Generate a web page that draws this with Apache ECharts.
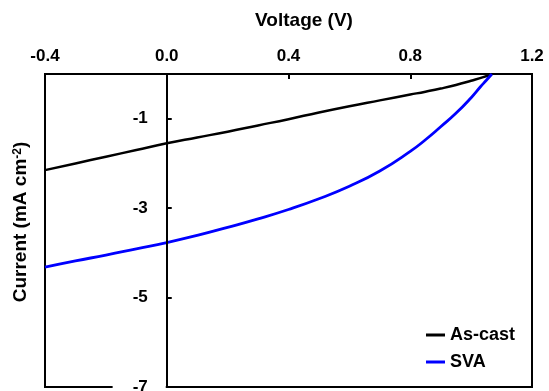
<!DOCTYPE html>
<html>
<head>
<meta charset="utf-8">
<script src="https://cdn.jsdelivr.net/npm/echarts@6/dist/echarts.min.js"></script>
<style>
  html, body { margin: 0; padding: 0; background: #fff; }
  #chart { width: 549px; height: 391px; }
</style>
</head>
<body>
<div id="chart"></div>
<script>
// J–V curves: voltage (V) against current density (mA cm^-2)
const xTicks = [-0.4, 0.0, 0.4, 0.8, 1.2];
const yTickLabels = [-7, -5, -3, -1];

const asCastVoltage = [-0.4, -0.3, -0.2, -0.1, 0.0, 0.1, 0.2, 0.3, 0.4, 0.5, 0.6, 0.7, 0.8, 0.85, 0.9, 0.95, 1.0, 1.04, 1.068];
const asCastCurrent = [-2.15, -2.00, -1.85, -1.70, -1.55, -1.42, -1.29, -1.15, -1.01, -0.86, -0.72, -0.59, -0.46, -0.395, -0.325, -0.245, -0.15, -0.07, 0.0];

const svaVoltage = [-0.4, -0.3, -0.2, -0.1, 0.0, 0.1, 0.2, 0.3, 0.4, 0.5, 0.6, 0.7, 0.8, 0.85, 0.9, 0.95, 1.0, 1.03, 1.05, 1.068];
const svaCurrent = [-4.32, -4.18, -4.05, -3.91, -3.77, -3.61, -3.43, -3.24, -3.03, -2.79, -2.51, -2.17, -1.73, -1.47, -1.18, -0.88, -0.53, -0.29, -0.14, 0.0];

const seriesNames = ['As-cast', 'SVA'];
const seriesColors = ['#000000', '#0000ff'];

const pairs = (xs, ys) => xs.map((x, i) => [x, ys[i]]);
const FONT = '"Liberation Sans", Arial, sans-serif';

// plot frame in pixels; the y axis is shifted right so it sits on V = 0
const GRID = { left: 45, right: 17, top: 74, bottom: 4 };
const plotWidth = 549 - GRID.left - GRID.right;
const xMin = xTicks[0], xMax = xTicks[xTicks.length - 1];
const zeroOffset = (0 - xMin) / (xMax - xMin) * plotWidth;

const chart = echarts.init(document.getElementById('chart'), null, { renderer: 'canvas' });

chart.setOption({
  backgroundColor: '#ffffff',
  animation: false,
  grid: {
    left: GRID.left, right: GRID.right, top: GRID.top, bottom: GRID.bottom,
    outerBoundsMode: 'none',
    containLabel: false,
    show: true,
    borderColor: '#000',
    borderWidth: 2,
    backgroundColor: 'transparent'
  },
  xAxis: {
    type: 'value',
    position: 'top',
    min: xMin,
    max: xMax,
    interval: 0.4,
    axisLine: { onZero: false, lineStyle: { color: '#000', width: 2 } },
    axisTick: { inside: true, length: 5, lineStyle: { color: '#000', width: 2 } },
    axisLabel: {
      margin: 9,
      color: '#000',
      fontFamily: FONT,
      fontWeight: 'bold',
      fontSize: 17,
      formatter: v => (Math.abs(v) < 1e-9 ? 0 : v).toFixed(1)
    },
    splitLine: { show: false }
  },
  yAxis: {
    type: 'value',
    position: 'left',
    offset: -zeroOffset,
    min: -7,
    max: 0,
    z: 5,
    axisLine: { onZero: false, lineStyle: { color: '#000', width: 2 } },
    axisTick: {
      inside: true, length: 5,
      customValues: yTickLabels,
      lineStyle: { color: '#000', width: 2 }
    },
    axisLabel: {
      customValues: yTickLabels,
      margin: 1,
      color: '#000',
      fontFamily: FONT,
      fontWeight: 'bold',
      fontSize: 17,
      backgroundColor: '#fff',
      padding: [2, 18, 2, 20]
    },
    splitLine: { show: false }
  },
  legend: {
    orient: 'vertical',
    left: 421,
    top: 321,
    icon: 'rect',
    itemWidth: 19,
    itemHeight: 3,
    itemGap: 9,
    textStyle: { color: '#000', fontFamily: FONT, fontWeight: 'bold', fontSize: 18 },
    data: seriesNames
  },
  graphic: [
    {
      type: 'text',
      x: 304, y: 21,
      style: {
        text: 'Voltage (V)',
        align: 'center', verticalAlign: 'middle',
        fill: '#000',
        font: 'bold 19px ' + FONT
      }
    },
    {
      type: 'text',
      x: 21, y: 222,
      rotation: Math.PI / 2,
      z: 10,
      style: {
        text: '{a|Current (mA cm}{s|-2}{a|)}',
        align: 'center', verticalAlign: 'middle',
        fill: '#000',
        rich: {
          a: { fontFamily: FONT, fontWeight: 'bold', fontSize: 19, fill: '#000' },
          s: { fontFamily: FONT, fontWeight: 'bold', fontSize: 12, fill: '#000', verticalAlign: 'top' }
        }
      }
    }
  ],
  series: [
    {
      name: seriesNames[0],
      type: 'line',
      smooth: 0.5,
      showSymbol: false,
      color: seriesColors[0],
      lineStyle: { width: 2.5, color: seriesColors[0] },
      data: pairs(asCastVoltage, asCastCurrent)
    },
    {
      name: seriesNames[1],
      type: 'line',
      smooth: 0.5,
      showSymbol: false,
      color: seriesColors[1],
      lineStyle: { width: 2.8, color: seriesColors[1] },
      data: pairs(svaVoltage, svaCurrent)
    }
  ]
});
</script>
</body>
</html>
